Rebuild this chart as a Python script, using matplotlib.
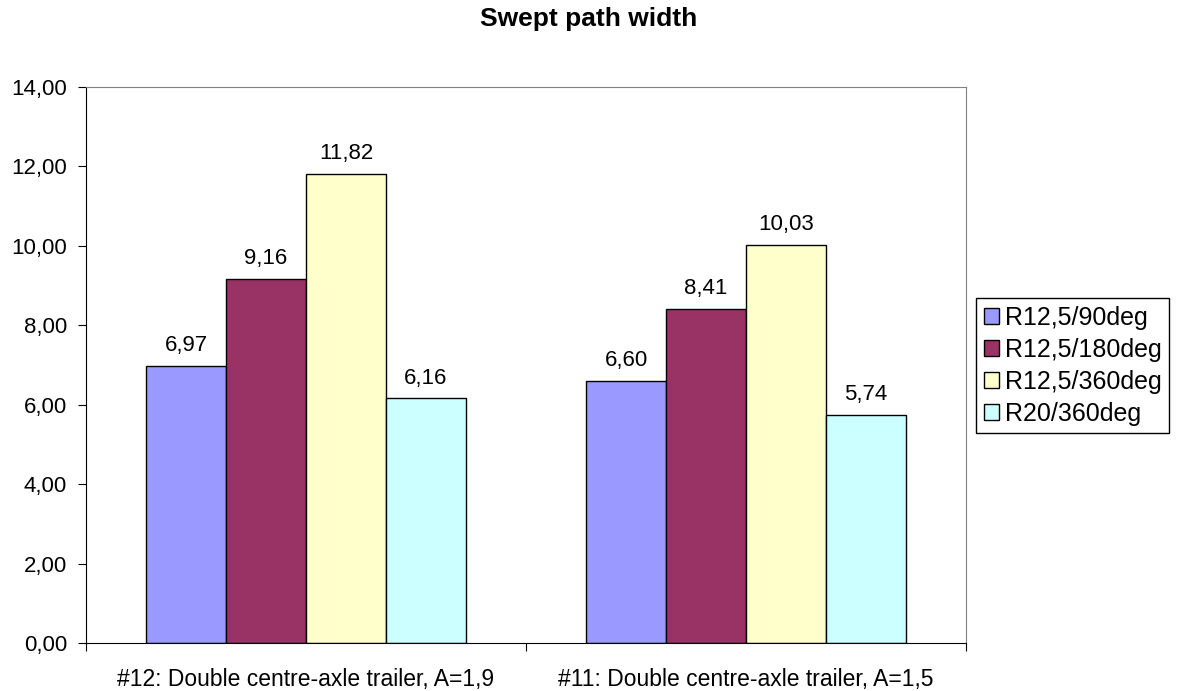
import numpy as np
import matplotlib.pyplot as plt

plt.rcParams['font.family'] = ['Liberation Sans', 'DejaVu Sans']

categories = ['#12: Double centre-axle trailer, A=1,9',
              '#11: Double centre-axle trailer, A=1,5']
series = ['R12,5/90deg', 'R12,5/180deg', 'R12,5/360deg', 'R20/360deg']
values = [
    [6.97, 6.60],
    [9.16, 8.41],
    [11.82, 10.03],
    [6.16, 5.74],
]
colors = ['#9999FF', '#993366', '#FFFFCC', '#CCFFFF']
yticks = np.arange(0, 14.01, 2)

fig = plt.figure(figsize=(11.85, 6.91), dpi=100)
ax = fig.add_axes([86 / 1185, 48 / 691, 880 / 1185, 556 / 691])

x = np.arange(len(categories))
w = 80 / 440
for i, (name, vals) in enumerate(zip(series, values)):
    pos = x + (i - 1.5) * w
    ax.bar(pos, vals, width=w, color=colors[i], edgecolor='black', linewidth=1, label=name)
    for p, v in zip(pos, vals):
        ax.annotate(f'{v:.2f}'.replace('.', ','), (p, v), xytext=(0, 7),
                    textcoords='offset points', ha='center', va='bottom', fontsize=16)

ax.set_xlim(-0.5, 1.5)
ax.set_ylim(0, 14)
ax.set_yticks(yticks)
ax.set_yticklabels([f'{t:.2f}'.replace('.', ',') for t in yticks], fontsize=16)
ax.set_xticks([-0.5, 0.5, 1.5])
ax.set_xticklabels([])
ax.set_xticks(x, minor=True)
ax.set_xticklabels(categories, minor=True, fontsize=16.5)
ax.tick_params(axis='x', which='minor', length=0, pad=18)
ax.tick_params(axis='x', which='major', length=6, direction='out', color='black')
ax.tick_params(axis='y', length=6, direction='out', pad=7.5)

for s in ['top', 'right']:
    ax.spines[s].set_color('#808080')
for s in ['left', 'bottom']:
    ax.spines[s].set_color('black')

fig.text(0.497, 0.972, 'Swept path width', ha='center', va='center',
         fontsize=19, fontweight='bold')

fig.legend(loc='upper left', bbox_to_anchor=(976 / 1185, 1 - 298 / 691),
           borderaxespad=0, fancybox=False, edgecolor='black', framealpha=1,
           fontsize=18, handlelength=0.6, handleheight=0.6, handletextpad=0.25,
           labelspacing=0.32, borderpad=0.3)

fig.savefig('out.png', dpi=100)
